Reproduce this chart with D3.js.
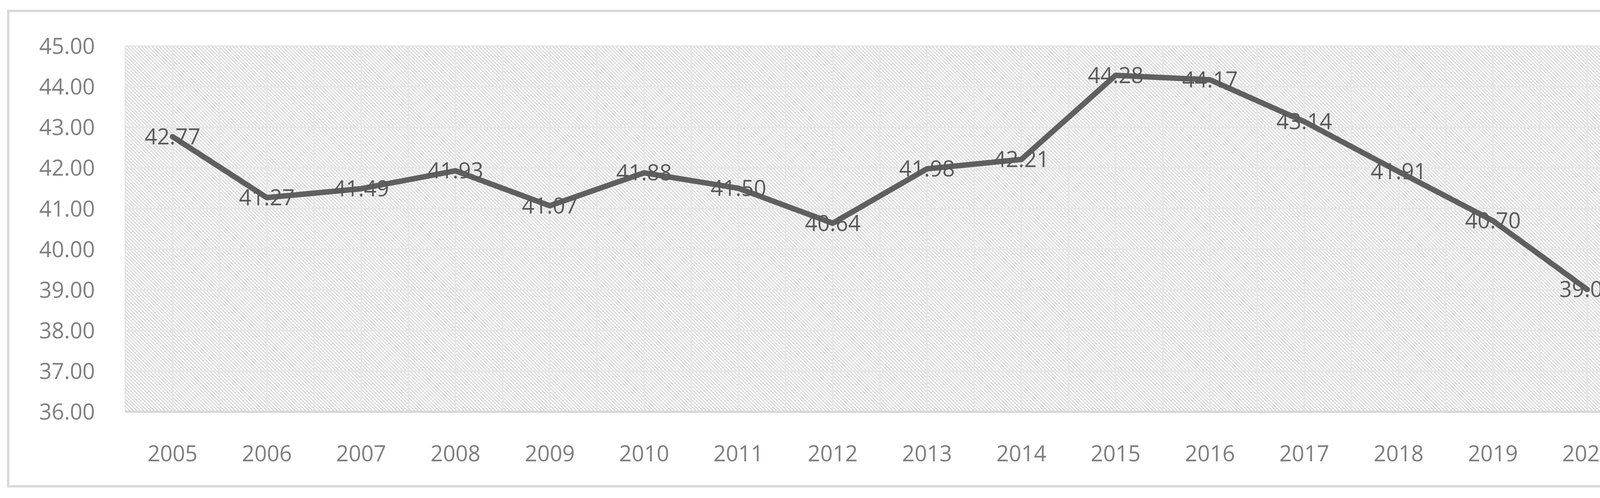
<!DOCTYPE html>
<html>
<head>
<meta charset="utf-8">
<script src="https://cdn.jsdelivr.net/npm/d3@7"></script>
<style>
  body { margin: 0; background: #fff; }
  text { font-family: "Open Sans", "Liberation Sans", sans-serif; }
</style>
</head>
<body>
<svg id="chart" width="4296" height="1276"></svg>
<script>
// data
var years = ["2005", "2006", "2007", "2008", "2009", "2010", "2011", "2012",
	"2013", "2014", "2015", "2016", "2017", "2018", "2019", "2020"];
var values = [42.77, 41.27, 41.49, 41.93, 41.07, 41.88, 41.50, 40.64,
	41.98, 42.21, 44.28, 44.17, 43.14, 41.91, 40.70, 39.01];
var yTicks = [36, 37, 38, 39, 40, 41, 42, 43, 44, 45];

var svg = d3.select("#chart");
var plotLeft = 321, plotRight = 4184, plotTop = 118, plotBottom = 1055;

// hatch pattern for plot area
var defs = svg.append("defs");
var pat = defs.append("pattern")
	.attr("id", "hatch")
	.attr("patternUnits", "userSpaceOnUse")
	.attr("width", 9).attr("height", 9);
pat.append("rect").attr("width", 9).attr("height", 9).attr("fill", "#fff");
pat.append("path")
	.attr("d", "M -2 -2 L 11 11 M -2 7 L 2 11 M 7 -2 L 11 2")
	.attr("stroke", "#dcdcdc")
	.attr("stroke-width", 3.2);

// outer chart border
svg.append("rect")
	.attr("x", 21).attr("y", 28)
	.attr("width", 4238).attr("height", 1218)
	.attr("fill", "none")
	.attr("stroke", "#d9d9d9")
	.attr("stroke-width", 6);

var x = d3.scaleBand().domain(years).range([plotLeft, plotRight]);
var y = d3.scaleLinear().domain([36, 45]).range([plotBottom, plotTop]);

svg.append("rect")
	.attr("x", plotLeft).attr("y", plotTop)
	.attr("width", plotRight - plotLeft).attr("height", plotBottom - plotTop)
	.attr("fill", "url(#hatch)");

// vertical gridlines at category edges and centres
var vx = [];
years.forEach(function (d) {
	vx.push(x(d));
	vx.push(x(d) + x.bandwidth() / 2);
});
vx.push(plotRight);
svg.selectAll("line.vgrid")
	.data(vx)
	.enter()
	.append("line")
	.attr("class", "vgrid")
	.attr("x1", function (d) { return d; })
	.attr("x2", function (d) { return d; })
	.attr("y1", plotTop).attr("y2", plotBottom)
	.attr("stroke", "#e6e6e6")
	.attr("stroke-width", 4);

svg.selectAll("line.hgrid")
	.data(yTicks)
	.enter()
	.append("line")
	.attr("class", "hgrid")
	.attr("x1", plotLeft).attr("x2", plotRight)
	.attr("y1", function (d) { return y(d); })
	.attr("y2", function (d) { return y(d); })
	.attr("stroke", function (d) { return d === 36 ? "#d9d9d9" : "#e6e6e6"; })
	.attr("stroke-width", function (d) { return d === 36 ? 6 : 4; });

// axes
var yAxis = svg.append("g")
	.attr("transform", "translate(" + (plotLeft - 78) + ",0)")
	.call(d3.axisLeft(y).tickValues(yTicks).tickFormat(d3.format(".2f")).tickSize(0));
yAxis.select(".domain").remove();
yAxis.selectAll("text")
	.attr("font-size", 56)
	.attr("fill", "#7f7f7f")
	.attr("x", 0)
	.attr("dy", "0.35em");

var xAxis = svg.append("g")
	.attr("transform", "translate(0," + plotBottom + ")")
	.call(d3.axisBottom(x).tickSize(0));
xAxis.select(".domain").remove();
xAxis.selectAll("text")
	.attr("font-size", 56)
	.attr("fill", "#7f7f7f")
	.attr("y", 107)
	.attr("dy", "0.35em");

// line
var line = d3.line()
	.x(function (d, i) { return x(years[i]) + x.bandwidth() / 2; })
	.y(function (d) { return y(d); });

svg.append("path")
	.datum(values)
	.attr("d", line)
	.attr("fill", "none")
	.attr("stroke", "#5f5f5f")
	.attr("stroke-width", 14)
	.attr("stroke-linejoin", "round")
	.attr("stroke-linecap", "round");

// data labels centred on points
svg.selectAll("text.lbl")
	.data(values)
	.enter()
	.append("text")
	.attr("class", "lbl")
	.attr("x", function (d, i) { return x(years[i]) + x.bandwidth() / 2; })
	.attr("y", function (d) { return y(d); })
	.attr("dy", "0.35em")
	.attr("text-anchor", "middle")
	.attr("font-size", 56)
	.attr("fill", "#595959")
	.text(function (d) { return d.toFixed(2); });
</script>
</body>
</html>
